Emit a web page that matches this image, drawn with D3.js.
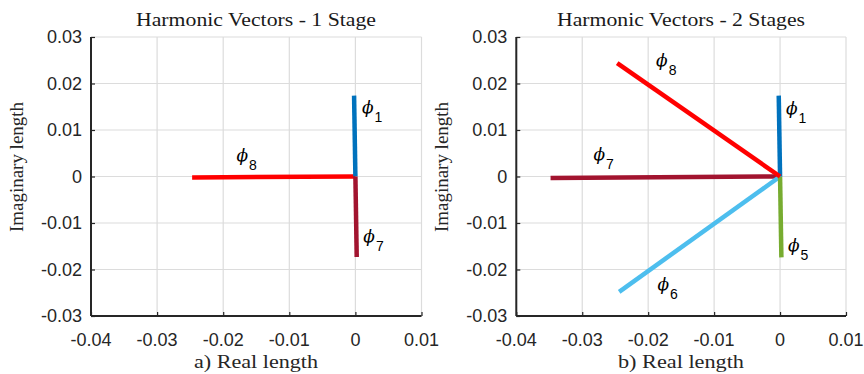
<!DOCTYPE html>
<html>
<head>
<meta charset="utf-8">
<script src="https://cdn.jsdelivr.net/npm/d3@7"></script>
<style>
  html, body { margin: 0; padding: 0; background: #fff; }
  svg { display: block; }
  .serif { font-family: "Liberation Serif", "Times New Roman", "DejaVu Serif", "Noto Serif", serif; }
  .sans { font-family: "Liberation Sans", Arimo, Arial, Helvetica, sans-serif; }
  .phi { font-family: "DejaVu Serif", "Liberation Serif", serif; font-style: italic; }
</style>
</head>
<body>
<svg id="chart" width="864" height="374"></svg>
<script>
// Axis ticks shared by both panels
const xTicks = [-0.04, -0.03, -0.02, -0.01, 0, 0.01];
const yTicks = [-0.03, -0.02, -0.01, 0, 0.01, 0.02, 0.03];

// Panel a) one stage: harmonic index, vector tip (real, imaginary), label anchor
const stage1Harmonic = [8, 1, 7];
const stage1Re = [-0.0247, -0.0002, 0.0002];
const stage1Im = [-0.0002, 0.0174, -0.0173];
const stage1LabelRe = [-0.0180, 0.0010, 0.0012];
const stage1LabelIm = [0.0034, 0.0136, -0.0141];

// Panel b) two stages
const stage2Harmonic = [7, 6, 5, 1, 8];
const stage2Re = [-0.0348, -0.0244, 0.0002, -0.0002, -0.0247];
const stage2Im = [-0.0003, -0.0248, -0.0174, 0.0174, 0.0244];
const stage2LabelRe = [-0.0283, -0.0186, 0.0012, 0.0009, -0.0188];
const stage2LabelIm = [0.0036, -0.0245, -0.0160, 0.0135, 0.0238];

const titles = ["Harmonic Vectors - 1 Stage", "Harmonic Vectors - 2 Stages"];
const xLabels = ["a) Real length", "b) Real length"];
const yLabel = "Imaginary length";

// Colour per harmonic
const harmonicColor = { 1: "#0072BD", 5: "#77AC30", 6: "#4DBEEE", 7: "#A2142F", 8: "#FF0000" };

const svg = d3.select("#chart");
const axisColor = "#262626";
const fmt = d => d === 0 ? "0" : d.toFixed(2);

function drawPanel(p) {
  const x = d3.scaleLinear().domain([-0.04, 0.01]).range([p.left, p.right]);
  const y = d3.scaleLinear().domain([-0.03, 0.03]).range([316, 37]);
  const g = svg.append("g");

  // grid
  g.append("g").selectAll("line").data(xTicks).join("line")
    .attr("x1", d => x(d)).attr("x2", d => x(d))
    .attr("y1", y(-0.03)).attr("y2", y(0.03))
    .attr("stroke", "#dcdcdc").attr("stroke-width", 1.2);
  g.append("g").selectAll("line").data(yTicks).join("line")
    .attr("x1", x(-0.04)).attr("x2", x(0.01))
    .attr("y1", d => y(d)).attr("y2", d => y(d))
    .attr("stroke", "#dcdcdc").attr("stroke-width", 1.2);

  // axes (ticks pointing inward)
  const xAxis = d3.axisTop(x).tickValues(xTicks).tickSize(4).tickFormat("");
  const yAxis = d3.axisRight(y).tickValues(yTicks).tickSize(4).tickFormat("");
  const gx = g.append("g").attr("transform", `translate(0,${y(-0.03)})`).call(xAxis);
  const gy = g.append("g").attr("transform", `translate(${x(-0.04)},0)`).call(yAxis);
  [gx, gy].forEach(a => {
    a.select(".domain").attr("stroke", axisColor).attr("stroke-width", 2);
    a.selectAll(".tick line").attr("stroke", axisColor).attr("stroke-width", 1.2);
  });
  gx.select(".domain").attr("d", `M${x(-0.04)},0H${x(0.01)}`);
  gy.select(".domain").attr("d", `M0,${y(-0.03)}V${y(0.03)}`);

  // tick labels
  g.append("g").selectAll("text").data(xTicks).join("text")
    .attr("class", "sans")
    .attr("x", d => x(d)).attr("y", 346)
    .attr("text-anchor", "middle")
    .attr("font-size", 18).attr("fill", axisColor)
    .text(fmt);
  g.append("g").selectAll("text").data(yTicks).join("text")
    .attr("class", "sans")
    .attr("x", x(-0.04) - 9).attr("y", d => y(d) + 6)
    .attr("text-anchor", "end")
    .attr("font-size", 18).attr("fill", axisColor)
    .text(fmt);

  // title and axis labels
  const cx = (p.left + p.right) / 2;
  g.append("text").attr("class", "serif").attr("x", p.titleX).attr("y", 26)
    .attr("font-size", 19)
    .attr("textLength", p.titleW).attr("lengthAdjust", "spacingAndGlyphs")
    .attr("fill", "#1a1a1a").text(p.title);
  g.append("text").attr("class", "serif").attr("x", p.xLabelX).attr("y", 368)
    .attr("font-size", 19)
    .attr("textLength", p.xLabelW).attr("lengthAdjust", "spacingAndGlyphs")
    .attr("fill", "#262626").text(p.xLabel);
  g.append("text").attr("class", "serif")
    .attr("transform", `translate(${p.left - 68},232) rotate(-90)`)
    .attr("font-size", 19)
    .attr("textLength", 130).attr("lengthAdjust", "spacingAndGlyphs")
    .attr("fill", "#262626").text(yLabel);

  // vectors from the origin
  const idx = d3.range(p.harmonic.length);
  g.append("g").selectAll("line").data(idx).join("line")
    .attr("x1", x(0)).attr("y1", y(0))
    .attr("x2", i => x(p.re[i])).attr("y2", i => y(p.im[i]))
    .attr("stroke", i => harmonicColor[p.harmonic[i]])
    .attr("stroke-width", 4.5);

  // labels  φ_n
  const lab = g.append("g").selectAll("text").data(idx).join("text")
    .attr("x", i => x(p.labelRe[i])).attr("y", i => y(p.labelIm[i]))
    .attr("fill", "#000");
  lab.append("tspan").attr("class", "phi")
    .attr("font-size", 17).text("\u03D5");
  lab.append("tspan").attr("class", "sans")
    .attr("font-size", 14)
    .attr("dx", 1).attr("dy", 9)
    .text(i => p.harmonic[i]);
}

drawPanel({ left: 91, right: 421.5, title: titles[0], xLabel: xLabels[0],
  titleX: 136, titleW: 240, xLabelX: 194, xLabelW: 124,
  harmonic: stage1Harmonic, re: stage1Re, im: stage1Im,
  labelRe: stage1LabelRe, labelIm: stage1LabelIm });
drawPanel({ left: 516.3, right: 846, title: titles[1], xLabel: xLabels[1],
  titleX: 557, titleW: 248, xLabelX: 618, xLabelW: 126,
  harmonic: stage2Harmonic, re: stage2Re, im: stage2Im,
  labelRe: stage2LabelRe, labelIm: stage2LabelIm });
</script>
</body>
</html>
